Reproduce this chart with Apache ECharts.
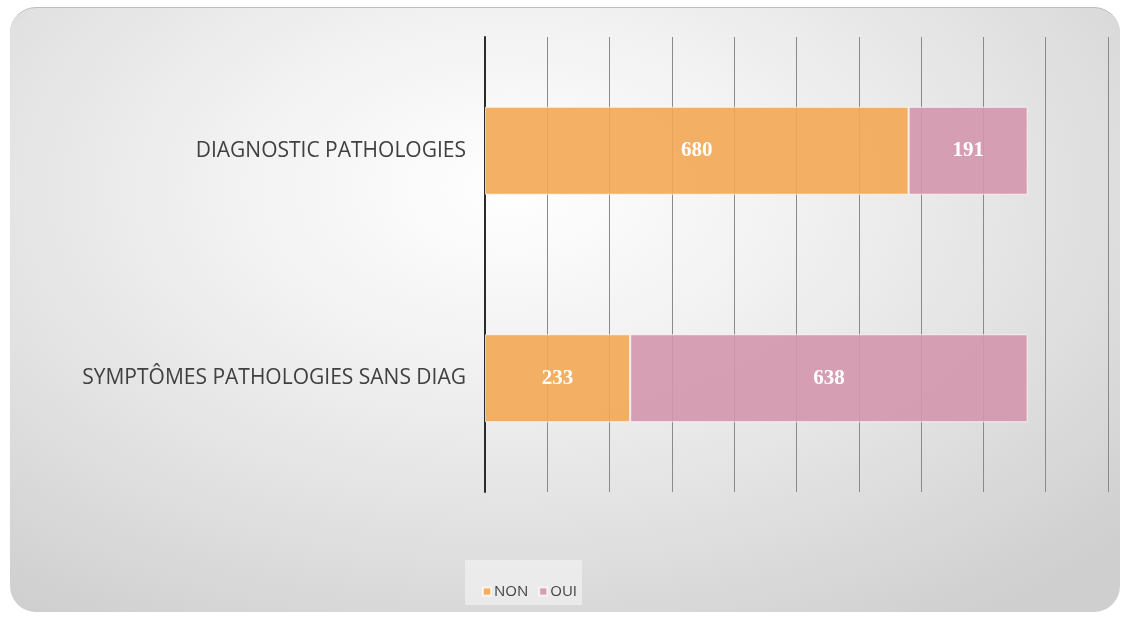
<!DOCTYPE html>
<html>
<head>
<meta charset="utf-8">
<script src="https://cdn.jsdelivr.net/npm/echarts@6/dist/echarts.min.js"></script>
<style>
  html, body { margin: 0; padding: 0; background: #fff; }
  .frame {
    position: absolute;
    left: 10px; top: 7px;
    width: 1110px; height: 605px;
    border-radius: 26px;
    border-top: 1px solid #bdbdbd;
    background: radial-gradient(ellipse 75% 85% at 45% 30%, #ffffff 0%, #f1f1f1 35%, #e2e2e2 65%, #cfcfcf 100%);
    box-sizing: border-box;
  }
  .legend-box {
    position: absolute;
    left: 465px; top: 560px;
    width: 117px; height: 45px;
    background: rgba(245, 245, 245, 0.6);
  }
  #chart { position: absolute; left: 0; top: 0; width: 1130px; height: 619px; }
</style>
</head>
<body>
<div class="frame"></div>
<div class="legend-box"></div>
<div id="chart"></div>
<script>
  // catégories (du haut vers le bas)
  const categories = ['DIAGNOSTIC PATHOLOGIES', 'SYMPTÔMES PATHOLOGIES SANS DIAG'];
  const nonValues = [680, 233];
  const ouiValues = [191, 638];

  const chart = echarts.init(document.getElementById('chart'));

  const barLabel = {
    show: true,
    position: 'inside',
    color: '#fff',
    fontFamily: 'Liberation Serif',
    fontWeight: 'bold',
    fontSize: 21
  };

  chart.setOption({
    backgroundColor: 'transparent',
    animation: false,
    grid: { left: 485, right: 22, top: 37, bottom: 127 },
    legend: {
      bottom: 15,
      left: 477,
      itemWidth: 8,
      itemHeight: 8,
      itemGap: 10,
      icon: 'rect',
      textStyle: { color: '#404040', fontSize: 15, fontFamily: 'Open Sans, sans-serif', padding: [0, 0, 0, -2] },
      data: ['NON', 'OUI']
    },
    xAxis: {
      type: 'value',
      min: 0,
      max: 1000,
      interval: 100,
      axisLabel: { show: false },
      axisLine: { show: false },
      axisTick: { show: false },
      splitLine: { show: true, lineStyle: { color: '#8a8a8a', width: 1 } }
    },
    yAxis: {
      type: 'category',
      inverse: true,
      data: categories,
      axisLine: { show: true, lineStyle: { color: '#2b2b2b', width: 2 } },
      axisTick: { show: false },
      axisLabel: {
        margin: 19,
        color: '#404040',
        fontSize: 21,
        fontFamily: 'Open Sans, sans-serif'
      }
    },
    series: [
      {
        name: 'NON',
        type: 'bar',
        stack: 'total',
        barWidth: 88,
        data: nonValues,
        label: barLabel,
        itemStyle: { color: 'rgba(243, 168, 84, 0.9)', borderColor: 'rgba(255,255,255,0.7)', borderWidth: 1 }
      },
      {
        name: 'OUI',
        type: 'bar',
        stack: 'total',
        barWidth: 88,
        data: ouiValues,
        label: barLabel,
        itemStyle: { color: 'rgba(212, 150, 172, 0.9)', borderColor: 'rgba(255,255,255,0.7)', borderWidth: 1 }
      }
    ]
  });

  window.addEventListener('resize', () => chart.resize());
</script>
</body>
</html>
